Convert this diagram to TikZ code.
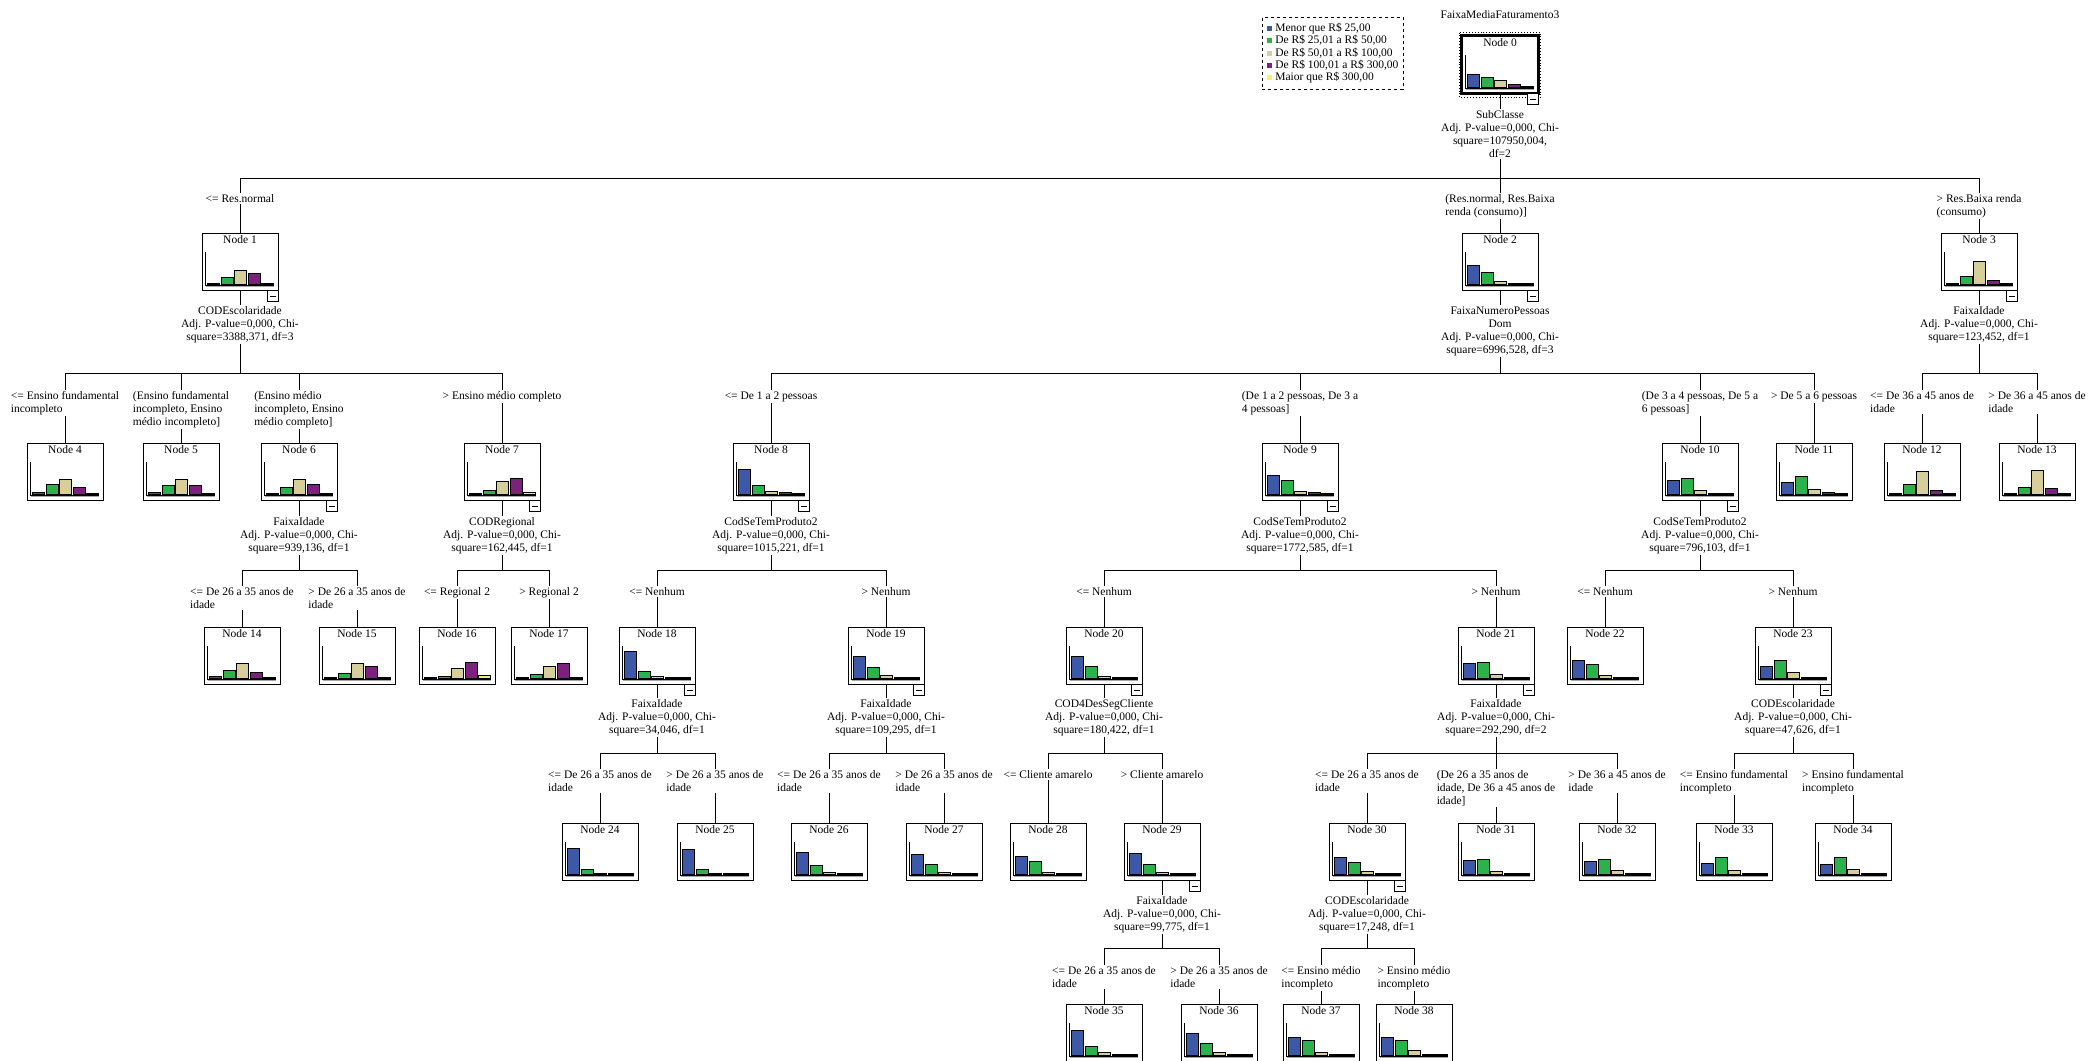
\documentclass[tikz,border=0pt]{standalone}
\usepackage{fontspec}
\setmainfont{Liberation Serif}
\usetikzlibrary{calc}

\definecolor{cblue}{RGB}{62,88,168}
\definecolor{cgreen}{RGB}{44,178,74}
\definecolor{ckhaki}{RGB}{214,207,154}
\definecolor{cpurple}{RGB}{122,34,124}
\definecolor{cyellow}{RGB}{246,242,112}

\newcommand{\fonte}{\fontsize{11.5}{13}\selectfont}
\newcommand{\quadrado}[1]{\raisebox{0.5pt}{\textcolor{#1}{\rule{5pt}{5pt}}}\hspace{3pt}}

% caixa com histograma: nome, x, y do topo, numero, 5 barras
\newcommand{\treebox}[9]{%
  \node[caixa] (#1) at (#2,#3+28.5) {};
  \node[anchor=north,inner sep=0pt] (#1t) at ($(#1.north)+(0,3)$) {Node #4};
  \draw[line width=0.8pt] ($(#1.north west)+(4,19)$) -- ($(#1.north west)+(4,53)$);
  \draw[gray!70,line width=1.4pt] ($(#1.north west)+(4,54)$) -- ($(#1.north west)+(72,54)$);
  \draw[line width=1pt] ($(#1.north west)+(4,52.5)$) -- ($(#1.north west)+(72,52.5)$);
  \foreach \h/\cor [count=\i from 0] in {#5/cblue,#6/cgreen,#7/ckhaki,#8/cpurple,#9/cyellow}
    \filldraw[fill=\cor,draw=black,line width=0.7pt] ($(#1.north west)+(6+13.5*\i,52)$) rectangle ++(12,-\h);
}
\newcommand{\menosbox}[1]{\node[menos] (#1m) at ($(#1.south east)+(-5.5,5.5)$) {};}

\begin{document}
\begin{tikzpicture}[x=1pt,y=-1pt,font=\fonte,line width=0.8pt,
  caixa/.style={draw,fill=white,line width=0.9pt,minimum width=76pt,minimum height=57pt,inner sep=0pt},
  divisao/.style={align=center,anchor=north,inner sep=1pt},
  rotulo/.style={align=left,anchor=north,inner sep=1pt},
  legenda/.style={draw,dashed,anchor=north west,align=left,inner xsep=5pt,inner ysep=6pt,
    font=\fontsize{11.5}{12.2}\selectfont},
  menos/.style={draw,fill=white,minimum size=11pt,inner sep=0pt,line width=0.7pt,
    path picture={\draw[line width=0.8pt] ($(path picture bounding box.west)+(2.5,0)$) -- ($(path picture bounding box.east)+(-2.5,0)$);}}]

\useasboundingbox (0,0) rectangle (2090,1060);

% legenda e titulo
\node[legenda] (leg) at (1262,17) {\quadrado{cblue}Menor que R\$ 25,00\\
  \quadrado{cgreen}De R\$ 25,01 a R\$ 50,00\\
  \quadrado{ckhaki}De R\$ 50,01 a R\$ 100,00\\
  \quadrado{cpurple}De R\$ 100,01 a R\$ 300,00\\
  \quadrado{cyellow}Maior que R\$ 300,00};
\node (titulo) at (1500,15) {FaixaMediaFaturamento3};

% caixas dos nos
\treebox{n0}{1500}{36}{0}{13}{10}{7}{3}{1}
\draw[line width=2.2pt] (n0.north west) rectangle (n0.south east);
\draw[dotted,line width=0.9pt] ($(n0.north west)+(-2,-3)$) rectangle ($(n0.south east)+(2,4)$);
\treebox{n1}{240}{233}{1}{1}{7}{14}{11}{1}
\treebox{n2}{1500}{233}{2}{19}{12}{3}{1}{1}
\treebox{n3}{1979}{233}{3}{1}{8}{23}{4}{1}
\treebox{n4}{65}{443}{4}{2}{10}{15}{7}{1}
\treebox{n5}{181}{443}{5}{2}{9}{15}{9}{1}
\treebox{n6}{299}{443}{6}{1}{7}{15}{10}{1}
\treebox{n7}{502}{443}{7}{1}{4}{13}{16}{2.5}
\treebox{n8}{771}{443}{8}{25}{9}{3}{2}{1}
\treebox{n9}{1300}{443}{9}{19}{14}{3}{2}{1}
\treebox{n10}{1700}{443}{10}{14}{16}{4}{1}{1}
\treebox{n11}{1814}{443}{11}{12}{18}{5}{2}{1}
\treebox{n12}{1922}{443}{12}{1}{10}{23}{4}{1}
\treebox{n13}{2037}{443}{13}{1}{7}{24}{6}{1}
\treebox{n14}{242}{627}{14}{2}{8}{15}{6}{1}
\treebox{n15}{357}{627}{15}{1}{5}{15}{12}{1}
\treebox{n16}{457}{627}{16}{1}{2}{10}{16}{3}
\treebox{n17}{549}{627}{17}{1}{4}{12}{15}{1}
\treebox{n18}{657}{627}{18}{27}{7}{2}{1}{1}
\treebox{n19}{886}{627}{19}{22}{11}{3}{1}{1}
\treebox{n20}{1104}{627}{20}{22}{12}{2}{1}{1}
\treebox{n21}{1496}{627}{21}{15}{16}{4}{1}{1}
\treebox{n22}{1605}{627}{22}{18}{14}{3}{1}{1}
\treebox{n23}{1793}{627}{23}{12}{18}{6}{1}{1}
\treebox{n24}{600}{823}{24}{26}{5}{1}{1}{1}
\treebox{n25}{715}{823}{25}{25}{5}{1}{1}{1}
\treebox{n26}{829}{823}{26}{22}{9}{2}{1}{1}
\treebox{n27}{944}{823}{27}{20}{10}{2}{1}{1}
\treebox{n28}{1048}{823}{28}{18}{13}{2}{1}{1}
\treebox{n29}{1162}{823}{29}{21}{10}{2}{1}{1}
\treebox{n30}{1367}{823}{30}{17}{12}{3}{1}{1}
\treebox{n31}{1496}{823}{31}{14}{15}{3}{1}{1}
\treebox{n32}{1617}{823}{32}{13}{15}{4}{1}{1}
\treebox{n33}{1734}{823}{33}{11}{17}{4}{1}{1}
\treebox{n34}{1853}{823}{34}{10}{17}{5}{1}{1}
\treebox{n35}{1104}{1004}{35}{25}{9}{3}{1}{1}
\treebox{n36}{1219}{1004}{36}{22}{12}{3}{1}{1}
\treebox{n37}{1321}{1004}{37}{18}{15}{3}{1}{1}
\treebox{n38}{1414}{1004}{38}{18}{15}{5}{1}{1}

% botoes de recolher
\foreach \n in {n0,n1,n2,n3,n6,n7,n8,n9,n10,n18,n19,n20,n21,n23,n29,n30}{\menosbox{\n}}

% textos das divisoes
\node[divisao] (s0) at (1500,109) {SubClasse\\Adj. P-value=0,000, Chi-\\square=107950,004,\\df=2};
\node[divisao] (s1) at (240,305) {CODEscolaridade\\Adj. P-value=0,000, Chi-\\square=3388,371, df=3};
\node[divisao] (s2) at (1500,305) {FaixaNumeroPessoas\\Dom\\Adj. P-value=0,000, Chi-\\square=6996,528, df=3};
\node[divisao] (s3) at (1979,305) {FaixaIdade\\Adj. P-value=0,000, Chi-\\square=123,452, df=1};
\node[divisao] (s6) at (299,516) {FaixaIdade\\Adj. P-value=0,000, Chi-\\square=939,136, df=1};
\node[divisao] (s7) at (502,516) {CODRegional\\Adj. P-value=0,000, Chi-\\square=162,445, df=1};
\node[divisao] (s8) at (771,516) {CodSeTemProduto2\\Adj. P-value=0,000, Chi-\\square=1015,221, df=1};
\node[divisao] (s9) at (1300,516) {CodSeTemProduto2\\Adj. P-value=0,000, Chi-\\square=1772,585, df=1};
\node[divisao] (s10) at (1700,516) {CodSeTemProduto2\\Adj. P-value=0,000, Chi-\\square=796,103, df=1};
\node[divisao] (s18) at (657,698) {FaixaIdade\\Adj. P-value=0,000, Chi-\\square=34,046, df=1};
\node[divisao] (s19) at (886,698) {FaixaIdade\\Adj. P-value=0,000, Chi-\\square=109,295, df=1};
\node[divisao] (s20) at (1104,698) {COD4DesSegCliente\\Adj. P-value=0,000, Chi-\\square=180,422, df=1};
\node[divisao] (s21) at (1496,698) {FaixaIdade\\Adj. P-value=0,000, Chi-\\square=292,290, df=2};
\node[divisao] (s23) at (1793,698) {CODEscolaridade\\Adj. P-value=0,000, Chi-\\square=47,626, df=1};
\node[divisao] (s29) at (1162,895) {FaixaIdade\\Adj. P-value=0,000, Chi-\\square=99,775, df=1};
\node[divisao] (s30) at (1367,895) {CODEscolaridade\\Adj. P-value=0,000, Chi-\\square=17,248, df=1};

% rotulos dos ramos
\node[rotulo] (l1) at (240,193) {<= Res.normal};
\node[rotulo] (l2) at (1500,193) {(Res.normal, Res.Baixa\\renda (consumo)]};
\node[rotulo] (l3) at (1979,193) {> Res.Baixa renda\\(consumo)};
\node[rotulo] (l4) at (65,390) {<= Ensino fundamental\\incompleto};
\node[rotulo] (l5) at (181,390) {(Ensino fundamental\\incompleto, Ensino\\médio incompleto]};
\node[rotulo] (l6) at (299,390) {(Ensino médio\\incompleto, Ensino\\médio completo]};
\node[rotulo] (l7) at (502,390) {> Ensino médio completo};
\node[rotulo] (l8) at (771,390) {<= De 1 a 2 pessoas};
\node[rotulo] (l9) at (1300,390) {(De 1 a 2 pessoas, De 3 a\\4 pessoas]};
\node[rotulo] (l10) at (1700,390) {(De 3 a 4 pessoas, De 5 a\\6 pessoas]};
\node[rotulo] (l11) at (1814,390) {> De 5 a 6 pessoas};
\node[rotulo] (l12) at (1922,390) {<= De 36 a 45 anos de\\idade};
\node[rotulo] (l13) at (2037,390) {> De 36 a 45 anos de\\idade};
\node[rotulo] (l14) at (242,586) {<= De 26 a 35 anos de\\idade};
\node[rotulo] (l15) at (357,586) {> De 26 a 35 anos de\\idade};
\node[rotulo] (l16) at (457,586) {<= Regional 2};
\node[rotulo] (l17) at (549,586) {> Regional 2};
\node[rotulo] (l18) at (657,586) {<= Nenhum};
\node[rotulo] (l19) at (886,586) {> Nenhum};
\node[rotulo] (l20) at (1104,586) {<= Nenhum};
\node[rotulo] (l21) at (1496,586) {> Nenhum};
\node[rotulo] (l22) at (1605,586) {<= Nenhum};
\node[rotulo] (l23) at (1793,586) {> Nenhum};
\node[rotulo] (l24) at (600,769) {<= De 26 a 35 anos de\\idade};
\node[rotulo] (l25) at (715,769) {> De 26 a 35 anos de\\idade};
\node[rotulo] (l26) at (829,769) {<= De 26 a 35 anos de\\idade};
\node[rotulo] (l27) at (944,769) {> De 26 a 35 anos de\\idade};
\node[rotulo] (l28) at (1048,769) {<= Cliente amarelo};
\node[rotulo] (l29) at (1162,769) {> Cliente amarelo};
\node[rotulo] (l30) at (1367,769) {<= De 26 a 35 anos de\\idade};
\node[rotulo] (l31) at (1496,769) {(De 26 a 35 anos de\\idade, De 36 a 45 anos de\\idade]};
\node[rotulo] (l32) at (1617,769) {> De 36 a 45 anos de\\idade};
\node[rotulo] (l33) at (1734,769) {<= Ensino fundamental\\incompleto};
\node[rotulo] (l34) at (1853,769) {> Ensino fundamental\\incompleto};
\node[rotulo] (l35) at (1104,965) {<= De 26 a 35 anos de\\idade};
\node[rotulo] (l36) at (1219,965) {> De 26 a 35 anos de\\idade};
\node[rotulo] (l37) at (1321,965) {<= Ensino médio\\incompleto};
\node[rotulo] (l38) at (1414,965) {> Ensino médio\\incompleto};

% ligacoes: pai -> divisao -> barra -> rotulo -> filho
\coordinate (h0) at (1500,178);
\coordinate (h1) at (240,373);
\coordinate (h2) at (1500,373);
\coordinate (h3) at (1979,373);
\coordinate (h6) at (299,570);
\coordinate (h7) at (502,570);
\coordinate (h8) at (771,570);
\coordinate (h9) at (1300,570);
\coordinate (h10) at (1700,570);
\coordinate (h18) at (657,753);
\coordinate (h19) at (886,753);
\coordinate (h20) at (1104,753);
\coordinate (h21) at (1496,753);
\coordinate (h23) at (1793,753);
\coordinate (h29) at (1162,948);
\coordinate (h30) at (1367,948);

\foreach \p/\filhos in {0/{1,2,3},1/{4,5,6,7},2/{8,9,10,11},3/{12,13},6/{14,15},7/{16,17},
    8/{18,19},9/{20,21},10/{22,23},18/{24,25},19/{26,27},20/{28,29},21/{30,31,32},
    23/{33,34},29/{35,36},30/{37,38}}{
  \draw (n\p.south) -- (s\p.north) (s\p.south) -- (h\p);
  \foreach \c in \filhos
    \draw (h\p) -| (n\c.north |- l\c.north) (l\c.south -| n\c.north) -- (n\c.north);
}
\end{tikzpicture}
\end{document}
